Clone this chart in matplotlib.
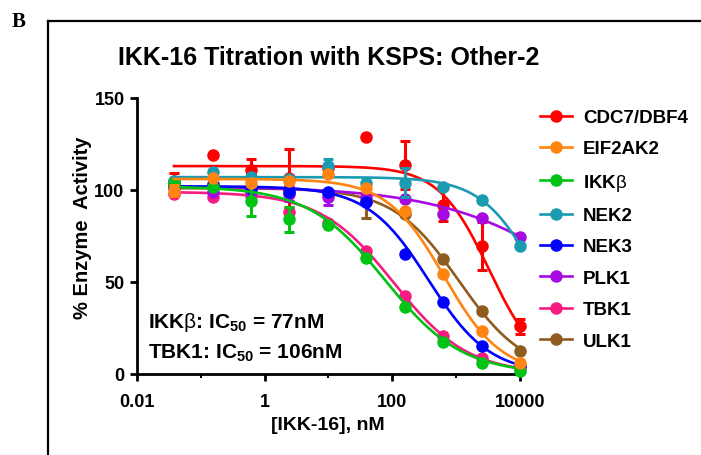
import numpy as np
import matplotlib
matplotlib.use("Agg")
import matplotlib.pyplot as plt
from matplotlib.lines import Line2D

plt.rcParams['mathtext.fontset'] = 'custom'
plt.rcParams['mathtext.rm'] = 'Liberation Sans'
plt.rcParams['mathtext.bf'] = 'Liberation Sans:bold'
plt.rcParams['mathtext.it'] = 'Liberation Sans:italic'

sans = ['Liberation Sans', 'DejaVu Sans']

# 4-fold dilution series, nM
conc = [0.038, 0.153, 0.61, 2.44, 9.77, 39.06, 156.25, 625, 2500, 10000]

cdc7 = [105, 119, 111, 106.5, 112, 129, 113.6, 92, 69.6, 26]
cdc7_err = [4, 0, 6, 16, 0, 0, 13, 9, 13, 4]
eif2ak2 = [99.5, 106.5, 104, 105, 108.7, 101, 88.6, 54.3, 23.4, 6]
eif2ak2_err = [3, 0, 0, 0, 0, 0, 0, 0, 0, 0]
ikkb = [103, 101.6, 94, 84, 81, 63, 36.4, 17.4, 6, 1.6]
ikkb_err = [3, 0, 8, 7, 0, 0, 0, 0, 0, 0]
nek2 = [105, 110, 107, 106, 113, 104, 104, 101.6, 94.6, 69.6]
nek2_err = [0, 0, 0, 0, 4, 0, 8, 0, 0, 0]
nek3 = [103, 103, 101, 99, 99, 93.5, 65, 39, 15.2, 4.4]
nek3_err = [0, 0, 0, 0, 0, 0, 0, 0, 0, 0]
plk1 = [101, 99, 99, 98, 96, 96, 95, 87, 85, 74.5]
plk1_err = [0, 0, 0, 4, 4, 0, 0, 0, 0, 0]
tbk1 = [98, 96, 97, 88, 82, 67, 42.4, 20.7, 8.7, 3.3]
tbk1_err = [0, 0, 0, 0, 0, 0, 0, 0, 0, 0]
ulk1 = [102, 102, 100, 100, 98, 94, 87, 62.5, 34, 12.5]
ulk1_err = [0, 0, 0, 0, 0, 9, 0, 0, 0, 0]

# fitted curve parameters: top, bottom, IC50 (nM), hill slope
fit_cdc7 = (113, 0, 3300, 1.1)
fit_eif2ak2 = (106, 0, 650, 0.97)
fit_ikkb = (102, 0, 77, 0.72)
fit_nek2 = (107, 0, 19000, 1.0)
fit_nek3 = (102, 0, 370, 0.91)
fit_plk1 = (102, 0, 131000, 0.39)
fit_tbk1 = (99, 0, 106, 0.75)
fit_ulk1 = (101, 0, 1110, 0.84)

names = ['CDC7/DBF4', 'EIF2AK2', r'IKK$\mathrm{\beta}$', 'NEK2', 'NEK3', 'PLK1', 'TBK1', 'ULK1']
colors = ['#ff0000', '#ff8410', '#00c316', '#1a9bb2', '#0000ff', '#a60ae0', '#f51c82', '#8f5c20']
values = [cdc7, eif2ak2, ikkb, nek2, nek3, plk1, tbk1, ulk1]
errors = [cdc7_err, eif2ak2_err, ikkb_err, nek2_err, nek3_err, plk1_err, tbk1_err, ulk1_err]
fits = [fit_cdc7, fit_eif2ak2, fit_ikkb, fit_nek2, fit_nek3, fit_plk1, fit_tbk1, fit_ulk1]
zorders = [2, 10, 9, 8, 7, 6, 5, 4]


def logistic(x, top, bottom, ic50, hill):
    return bottom + (top - bottom) / (1 + (x / ic50) ** hill)


fig = plt.figure(figsize=(7.01, 4.56), dpi=100)
ax = fig.add_axes([137 / 701, 81 / 456, 383 / 701, 276 / 456])

xs = np.logspace(np.log10(conc[0]), np.log10(conc[-1]), 300)
for name, col, v, e, p, z in zip(names, colors, values, errors, fits, zorders):
    ax.plot(xs, logistic(xs, *p), color=col, lw=1.9, zorder=z, clip_on=False)
    err = np.array(e, dtype=float)
    err_plot = np.where(err > 0, err, np.nan)
    ax.errorbar(conc, v, yerr=err_plot, fmt='o', color=col, ms=8, elinewidth=2.2,
                capsize=3.5, capthick=2.2, zorder=z + 0.5, clip_on=False)

ax.set_xscale('log')
ax.set_xlim(0.01, 10000)
ax.set_ylim(0, 150)
ax.set_xticks([0.01, 1, 100, 10000])
ax.set_xticklabels(['0.01', '1', '100', '10000'])
ax.set_yticks([0, 50, 100, 150])
ax.xaxis.set_minor_locator(matplotlib.ticker.FixedLocator([0.1, 10, 1000]))
ax.xaxis.set_minor_formatter(matplotlib.ticker.NullFormatter())
for s in ['top', 'right']:
    ax.spines[s].set_visible(False)
for s in ['left', 'bottom']:
    ax.spines[s].set_linewidth(2.0)
ax.tick_params(axis='both', which='major', length=5, width=2.0, labelsize=13)
ax.tick_params(axis='x', which='major', pad=9)
ax.tick_params(axis='y', which='major', pad=4)
ax.tick_params(axis='x', which='minor', length=3, width=1.5)
for lab in ax.get_xticklabels() + ax.get_yticklabels():
    lab.set_family(sans)
    lab.set_fontweight('bold')

fig.text(328 / 701, 1 - 426 / 456, '[IKK-16], nM', fontsize=14, fontweight='bold', family=sans,
         ha='center', va='center')
fig.text(82 / 701, 1 - 228 / 456, '% Enzyme  Activity', fontsize=14.5, fontweight='bold',
         family=sans, ha='center', va='center', rotation=90)

fig.text(118 / 701, 1 - 58 / 456, 'IKK-16 Titration with KSPS: Other-2', fontsize=18,
         fontweight='bold', family=sans, ha='left', va='center')

ax.text(0.03, 0.19, r'IKK$\mathrm{\beta}$: IC$_{\mathbf{50}}$ = 77nM', transform=ax.transAxes,
        fontsize=15, fontweight='bold', family=sans, ha='left', va='center')
ax.text(0.03, 0.08, r'TBK1: IC$_{\mathbf{50}}$ = 106nM', transform=ax.transAxes,
        fontsize=15, fontweight='bold', family=sans, ha='left', va='center')

handles = [Line2D([0], [0], color=c, lw=1.9, marker='o', ms=8) for c in colors]
leg = fig.legend(handles, names, loc='upper left', bbox_to_anchor=(540 / 701, 1 - 110 / 456),
                 frameon=False, prop={'family': sans, 'weight': 'bold', 'size': 13.5},
                 handlelength=1.7, handletextpad=0.6, labelspacing=0.76, borderpad=0,
                 borderaxespad=0)

# panel label and frame
fig.text(12 / 701, 1 - 22 / 456, 'B', fontsize=15, fontweight='bold', family='Liberation Serif',
         ha='left', va='center')
fig.add_artist(Line2D([48 / 701, 48 / 701], [0, 1 - 22 / 456], color='black', lw=1.6))
fig.add_artist(Line2D([48 / 701, 1], [1 - 22 / 456, 1 - 22 / 456], color='black', lw=1.6))

fig.savefig('out.png', dpi=100)
